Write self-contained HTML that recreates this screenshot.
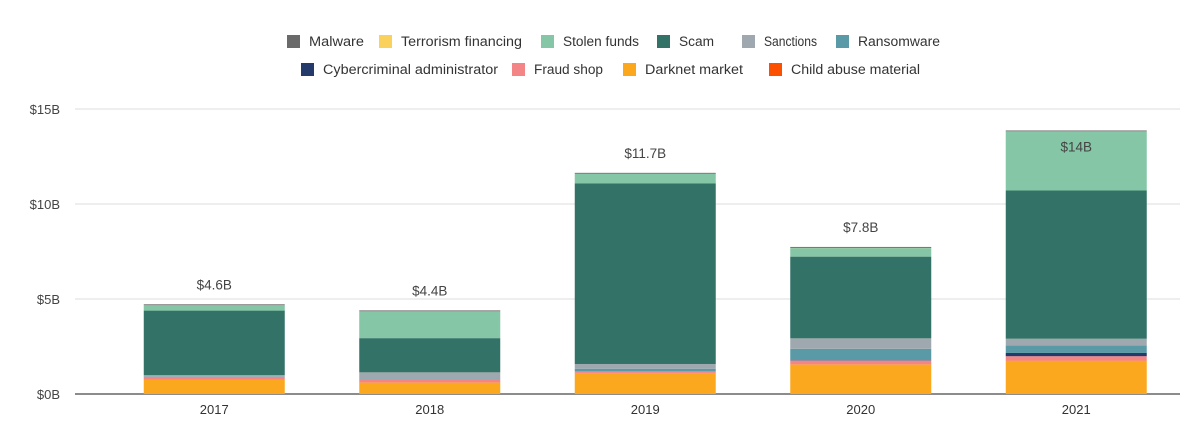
<!DOCTYPE html>
<html><head><meta charset="utf-8"><style>
body{margin:0;background:#fff;font-family:"Liberation Sans",sans-serif;}
#c{position:relative;width:1200px;height:429px;overflow:hidden}
</style></head><body>
<div id="c">
<svg id="s" width="1200" height="429" style="position:absolute;left:0;top:0"></svg>
</div>
<script>
const years=["2017","2018","2019","2020","2021"];
const totals=["$4.6B","$4.4B","$11.7B","$7.8B","$14B"];
const seriesNames=["Darknet market","Child abuse material","Fraud shop","Cybercriminal administrator","Ransomware","Sanctions","Scam","Stolen funds","Terrorism financing","Malware"];
const darknet=[0.75,0.6,1.1,1.55,1.75];
const child=[0.01,0.01,0.01,0.01,0.01];
const fraud=[0.15,0.18,0.08,0.2,0.23];
const cyber=[0,0,0,0.02,0.17];
const ransom=[0.03,0.02,0.14,0.6,0.4];
const sanctions=[0.05,0.33,0.25,0.55,0.35];
const scam=[3.4,1.8,9.5,4.3,7.8];
const stolen=[0.27,1.4,0.5,0.45,3.1];
const terror=[0.01,0.01,0.01,0.01,0.01];
const malware=[0.05,0.05,0.05,0.05,0.05];
const yTicks=[0,5,10,15];
const colors=["#fba81f","#fc4f00","#f38586","#243a6b","#5a9aa6","#9fa8ae","#327267","#84c6a6","#f9d15b","#6a6a6a"];
const series=[darknet,child,fraud,cyber,ransom,sanctions,scam,stolen,terror,malware];
const NS="http://www.w3.org/2000/svg";
const svg=document.getElementById('s');
const y=v=>394-v*19;
const band=215.5,x0=106.5,bw=141;
const xc=i=>x0+band*i+band/2;
function el(t,a){const e=document.createElementNS(NS,t);for(const k in a)e.setAttribute(k,a[k]);svg.appendChild(e);return e;}
yTicks.forEach(t=>{
 const l=el('line',{x1:75,x2:1180,y1:y(t),y2:y(t),stroke:t?'#dcdcdc':'#666','stroke-width':t?1:1.5});
 
 
 const tx=el('text',{x:60,y:y(t)+5,'text-anchor':'end','font-size':13,fill:'#444'});
 tx.textContent='$'+t+'B';
 
 
});
years.forEach((yr,i)=>{
 let acc=0;
 series.forEach((s,j)=>{
  const v=s[i]; if(v<=0)return;
  const r=el('rect',{x:xc(i)-bw/2,y:y(acc+v),width:bw,height:v*19,fill:colors[j]});
  
  
  acc+=v;
 });
 const top=y(acc);
 const lt=el('text',{x:xc(i),y:i==4?top+21:top-15,'text-anchor':'middle','font-size':13.5,fill:'#444'});
 lt.textContent=totals[i];
 
 
 const xt=el('text',{x:xc(i),y:414,'text-anchor':'middle','font-size':13,fill:'#333'});
 xt.textContent=yr;
 
 
});
const legend=[["Malware","#6a6a6a",309,55,0],["Terrorism financing","#f9d15b",401,121,0],["Stolen funds","#84c6a6",563,76,0],["Scam","#327267",679,35,0],["Sanctions","#9fa8ae",764,53,0],["Ransomware","#5a9aa6",858,82,0],
["Cybercriminal administrator","#243a6b",323,175,1],["Fraud shop","#f38586",534,69,1],["Darknet market","#fba81f",645,98,1],["Child abuse material","#fc4f00",791,129,1]];
legend.forEach(l=>{
 const top=l[4]?63:35;
 const sw=el('rect',{x:l[1]-22,y:top,width:13,height:13,fill:l[1]});
 sw.setAttribute('x',l[2]-22);
 sw.setAttribute('fill',l[1]);
 
 
 const t=el('text',{x:l[2],y:top+11,'font-size':13.5,fill:'#333',textLength:l[3],lengthAdjust:'spacingAndGlyphs'});
 t.textContent=l[0];
 
 
});
</script>
</body></html>
